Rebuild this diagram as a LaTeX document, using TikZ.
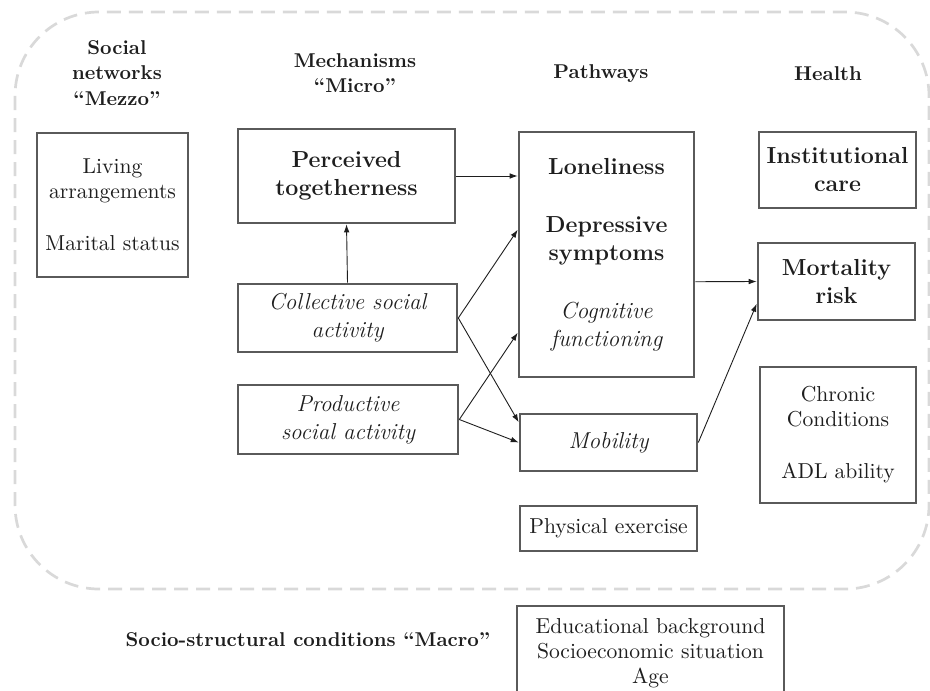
\documentclass[tikz,border=0pt]{standalone}
\usepackage{tikz}
\usetikzlibrary{arrows.meta,calc}
\definecolor{ink}{HTML}{1E1E1E}
\definecolor{edge}{HTML}{5A5A5A}
\definecolor{frame}{HTML}{D9D9D9}
\tikzset{
  arr/.style={-{Latex[length=4pt,width=2.8pt]}, line width=0.45pt, draw=ink},
  figbase/.style={x=0.5pt, y=-0.5pt, color=ink},
  box/.style={draw=edge, line width=1.3pt, inner sep=0pt, align=center, text=ink},
  boxthin/.style={box, line width=0.85pt},
  regtext/.style={font=\fontsize{10.8}{12.5}\selectfont},
  boldbig/.style={font=\fontsize{11.6}{14}\selectfont\bfseries},
  itbig/.style={font=\fontsize{11.5}{14}\selectfont\itshape},
  head/.style={font=\fontsize{10}{12.7}\selectfont\bfseries, align=center, text=ink},
  outline/.style={draw=frame, line width=1.35pt, dash pattern=on 7pt off 4pt, rounded corners=42pt},
}
\begin{document}
\begin{tikzpicture}[figbase]
  \useasboundingbox (0,0) rectangle (930,690);
  \draw[outline] (15,12) rectangle (929,589);

  \node[head] (hsoc) at (117,73) {Social\\networks\\“Mezzo”};
  \node[head] (hmech) at (355,73) {Mechanisms\\“Micro”};
  \node[head] (hpath) at (601,74) {Pathways};
  \node[head] (hhealth) at (828,74) {Health};

  \node[boxthin, regtext, minimum width=75.5pt, minimum height=72pt] (living) at (112.5,205)
    {Living\\arrangements\\[13.5pt]Marital status};

  \node[box, boldbig, minimum width=108.5pt, minimum height=47pt] (perc) at (346.5,176)
    {Perceived\\togetherness};
  \node[box, itbig, minimum width=109.5pt, minimum height=34pt] (coll) at (347.5,318)
    {Collective social\\activity};
  \node[box, itbig, minimum width=110pt, minimum height=34.5pt] (prod) at (348,419.5)
    {Productive\\social activity};

  \node[box, boldbig, minimum width=87.5pt, minimum height=122.5pt] (path) at (606.5,254.5)
    {Loneliness\\[15pt]Depressive\\symptoms\\[15pt]\normalfont\itshape Cognitive\\\normalfont\itshape functioning};
  \node[box, itbig, minimum width=88.5pt, minimum height=28.5pt] (mob) at (608.5,442.5) {Mobility};
  \node[boxthin, regtext, minimum width=88.5pt, minimum height=22.5pt] (phys) at (608.5,528.5)
    {Physical exercise};

  \node[box, boldbig, minimum width=78.5pt, minimum height=38pt] (inst) at (837.5,170)
    {Institutional\\care};
  \node[box, boldbig, minimum width=78.5pt, minimum height=38.5pt] (mort) at (836.5,281.5)
    {Mortality\\risk};
  \node[boxthin, regtext, minimum width=78pt, minimum height=68pt] (chron) at (838,435)
    {Chronic\\Conditions\\[13.5pt]ADL ability};

  \node[head] (hmacro) at (308,640) {Socio-structural conditions “Macro”};
  \node[boxthin, regtext, minimum width=133.5pt, minimum height=47pt] (edu) at (650.5,653)
    {Educational background\\Socioeconomic situation\\Age};

  \draw[arr] (perc.east) -- (perc.east -| path.west);
  \draw[arr] (coll.north) -- (perc.south);
  \draw[arr] (coll.east) -- ($(path.north west)!0.4!(path.south west)$);
  \draw[arr] (coll.east) -- ($(mob.north west)!0.16!(mob.south west)$);
  \draw[arr] (prod.east) -- ($(path.north west)!0.816!(path.south west)$);
  \draw[arr] (prod.east) -- (mob.west);
  \draw[arr] ($(path.north east)!0.61!(path.south east)$) -- (mort.west);
  \draw[arr] (mob.east) -- ($(mort.north west)!0.78!(mort.south west)$);
\end{tikzpicture}
\end{document}
